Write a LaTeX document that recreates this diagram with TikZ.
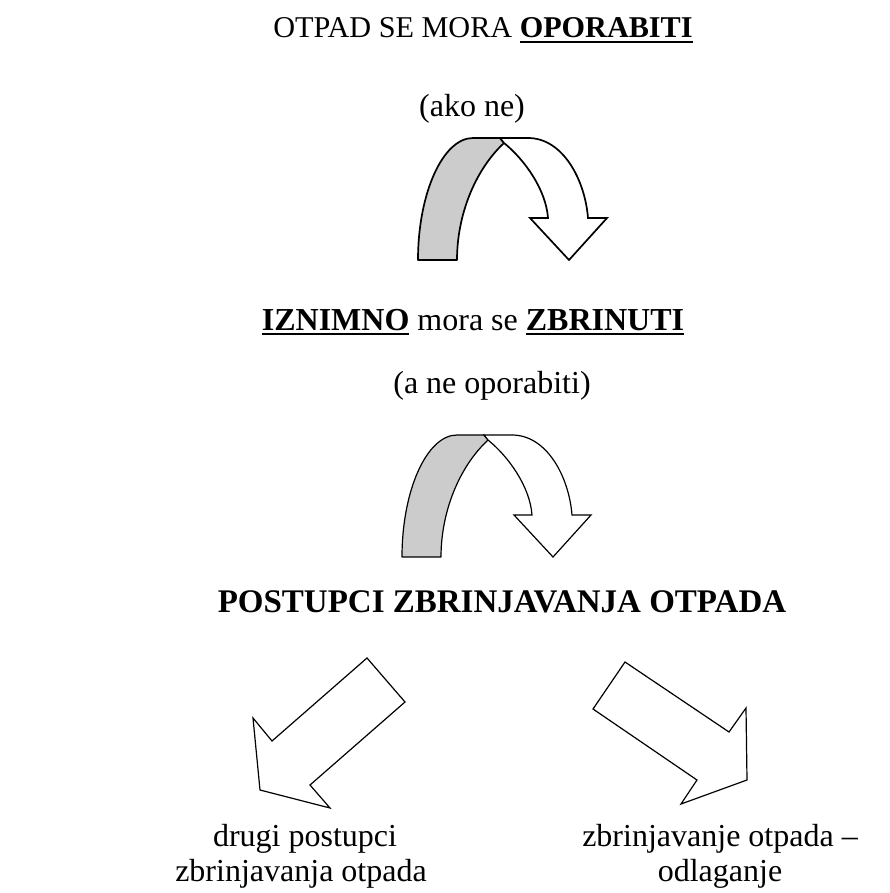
\documentclass[tikz,border=0pt]{standalone}
\usepackage{fontspec}
\setmainfont{Liberation Serif}
\newcommand\myul[1]{{\setbox0\hbox{#1}\rlap{\rule[-5pt]{\wd0}{2.2pt}}\box0}}
\tikzset{
  txt/.style={inner sep=0pt, anchor=base, font=\fontsize{32}{38}\selectfont},
  backband/.style={draw=black, fill=black!20, line join=round},
  frontband/.style={draw=black, fill=white, line join=miter},
  blockarrow/.style={draw=black, fill=white, line width=1.2pt, line join=miter}
}
\begin{document}
\begin{tikzpicture}[x=1pt,y=-1pt]
\useasboundingbox (0,0) rectangle (889,893);

% texts
\node[txt, font=\fontsize{30.2}{36}\selectfont] (t1) at (483,38) {OTPAD SE MORA \myul{\textbf{OPORABITI}}};
\node[txt] (t2) at (472,117) {(ako ne)};
\node[txt] (t3) at (473,330) {\myul{\textbf{IZNIMNO}} mora se \myul{\textbf{ZBRINUTI}}};
\node[txt] (t4) at (492,393) {(a ne oporabiti)};
\node[txt, font=\fontsize{33}{40}\selectfont] (t5) at (502,612) {\textbf{POSTUPCI ZBRINJAVANJA OTPADA}};
\node[txt] (t6a) at (305,846) {drugi postupci};
\node[txt] (t6b) at (301,881) {zbrinjavanja otpada};
\node[txt] (t7a) at (720,846) {zbrinjavanje otpada –};
\node[txt] (t7b) at (720,881) {odlaganje};

% curved arrow 1
\begin{scope}[line width=1.7pt]
\filldraw[backband] (457,260) -- (418,260) .. controls (418,193) and (443,138) .. (473,138)
  -- (500,138) -- (504,143) .. controls (475,170) and (457,215) .. (457,260) -- cycle;
\filldraw[frontband] (500,138) -- (528,138) .. controls (563,138) and (585,180) .. (588,218)
  -- (607,218) -- (569,260) -- (530,218) -- (548,218)
  .. controls (546,190) and (525,160) .. (504,143) -- cycle;
\end{scope}

% curved arrow 2
\begin{scope}[shift={(-16,297)}, line width=1.2pt]
\filldraw[backband] (457,260) -- (418,260) .. controls (418,193) and (443,138) .. (473,138)
  -- (500,138) -- (504,143) .. controls (475,170) and (457,215) .. (457,260) -- cycle;
\filldraw[frontband] (500,138) -- (528,138) .. controls (563,138) and (585,180) .. (588,218)
  -- (607,218) -- (569,260) -- (530,218) -- (548,218)
  .. controls (546,190) and (525,160) .. (504,143) -- cycle;
\end{scope}

% block arrow down-left
\filldraw[blockarrow] (367,658) -- (272,741) -- (253,718) -- (260,790) -- (330,808)
  -- (310,785) -- (405,702) -- cycle;
% block arrow down-right
\filldraw[blockarrow] (625,662) -- (729,732) -- (746,708) -- (747,780) -- (681,804)
  -- (697,780) -- (593,709) -- cycle;
\end{tikzpicture}
\end{document}
